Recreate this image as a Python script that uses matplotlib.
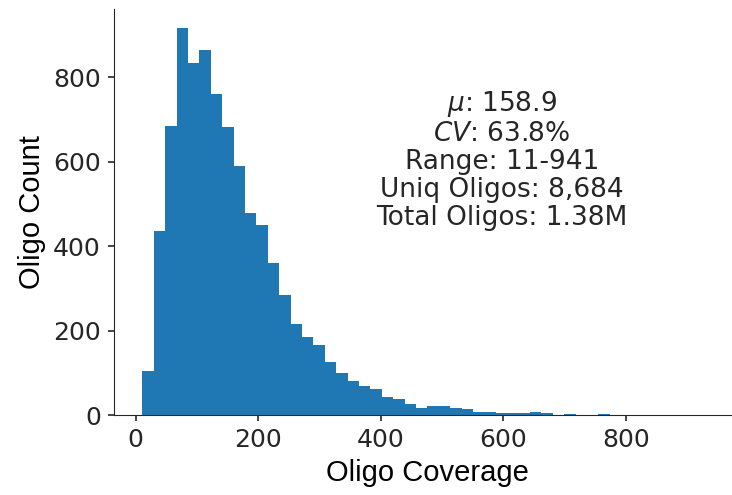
import numpy as np
import matplotlib
matplotlib.use("Agg")
import matplotlib.pyplot as plt
import seaborn as sns

# Histogram counts (50 bins spanning 11-941)
cov_min, cov_max = 11, 941
counts = [104, 435, 683, 915, 833, 865, 759, 682, 589, 477,
          450, 359, 284, 215, 184, 165, 125, 99, 80, 69,
          62, 43, 38, 26, 17, 21, 21, 17, 14, 7,
          7, 5, 5, 5, 7, 5, 1, 2, 1, 1,
          2, 1, 1, 1, 1, 0, 1, 1, 0, 1]
stats_text = "$\\mu$: 158.9\n$CV$: 63.8%\nRange: 11-941\nUniq Oligos: 8,684\nTotal Oligos: 1.38M"

sns.set_style("ticks")
plt.rcParams['font.family'] = ['DejaVu Sans']

edges = np.linspace(cov_min, cov_max, len(counts) + 1)
centers = (edges[:-1] + edges[1:]) / 2

fig = plt.figure(figsize=(7.32, 4.95), dpi=100)
ax = fig.add_axes([0.1557, 0.1616, 0.8566, 0.820])
ax.hist(centers, bins=edges, weights=counts, color='#1f77b4', edgecolor='none', linewidth=0)

ax.set_xlabel('Oligo Coverage', fontsize=21, color='black', family='Liberation Sans', labelpad=5)
ax.set_ylabel('Oligo Count', fontsize=21, color='black', family='Liberation Sans', labelpad=5)
ax.tick_params(labelsize=18, colors='#262626', length=4.5, width=1.2, pad=5)
ax.set_yticks([0, 200, 400, 600, 800])
ax.set_xticks([0, 200, 400, 600, 800])

ax.text(0.619, 0.629, stats_text, transform=ax.transAxes, ha='center', va='center',
        multialignment='center', fontsize=19, linespacing=1.1, color='#262626')

sns.despine(ax=ax)
fig.savefig('out.png', dpi=100)
